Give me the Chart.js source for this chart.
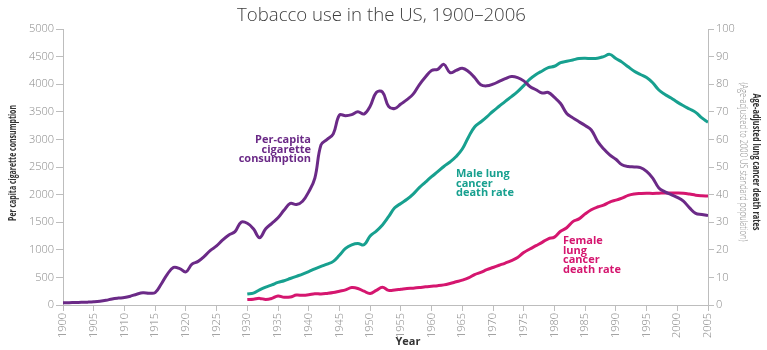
<!DOCTYPE html>
<html>
<head>
<meta charset="utf-8">
<script src="https://cdn.jsdelivr.net/npm/chart.js@4/dist/chart.umd.min.js"></script>
<style>
html,body{margin:0;padding:0;background:#fff;}
#wrap{width:767px;height:350px;position:relative;}
</style>
</head>
<body>
<div id="wrap"><canvas id="c" width="767" height="350"></canvas></div>
<script>
const title = "Tobacco use in the US, 1900–2006";
const xTitle = "Year";
const yLeftTitle = "Per capita cigarette consumption";
const yRightTitle = "Age-adjusted lung cancer death rates";
const yRightSub = "(Age-adjusted to 2000 US standard population)";
const labelCig = ["Per-capita", "cigarette", "consumption"];
const labelMale = ["Male lung", "cancer", "death rate"];
const labelFemale = ["Female", "lung", "cancer", "death rate"];

const cigYears = [1900,1901,1902,1903,1904,1905,1906,1907,1908,1909,1910,1911,1912,1913,1914,1915,1916,1917,1918,1919,1920,1921,1922,1923,1924,1925,1926,1927,1928,1929,1930,1931,1932,1933,1934,1935,1936,1937,1938,1939,1940,1941,1942,1943,1944,1945,1946,1947,1948,1949,1950,1951,1952,1953,1954,1955,1956,1957,1958,1959,1960,1961,1962,1963,1964,1965,1966,1967,1968,1969,1970,1971,1972,1973,1974,1975,1976,1977,1978,1979,1980,1981,1982,1983,1984,1985,1986,1987,1988,1989,1990,1991,1992,1993,1994,1995,1996,1997,1998,1999,2000,2001,2002,2003,2004,2005];
const cigValues = [40,42,45,48,52,58,68,85,110,125,135,160,195,220,215,225,380,560,680,660,600,740,790,880,990,1070,1180,1270,1330,1500,1480,1380,1220,1380,1480,1580,1720,1840,1820,1880,2050,2300,2900,3000,3100,3440,3430,3450,3500,3460,3600,3850,3860,3600,3560,3640,3720,3820,3990,4130,4250,4270,4360,4210,4250,4290,4230,4120,3990,3970,4000,4050,4100,4140,4120,4060,3960,3900,3840,3850,3760,3650,3470,3390,3320,3250,3170,2970,2830,2720,2640,2540,2510,2500,2490,2420,2300,2120,2050,2000,1950,1880,1760,1660,1640,1620];

const rateYears = [1930,1931,1932,1933,1934,1935,1936,1937,1938,1939,1940,1941,1942,1943,1944,1945,1946,1947,1948,1949,1950,1951,1952,1953,1954,1955,1956,1957,1958,1959,1960,1961,1962,1963,1964,1965,1966,1967,1968,1969,1970,1971,1972,1973,1974,1975,1976,1977,1978,1979,1980,1981,1982,1983,1984,1985,1986,1987,1988,1989,1990,1991,1992,1993,1994,1995,1996,1997,1998,1999,2000,2001,2002,2003,2004,2005];
const maleRates = [4.0,4.3,5.5,6.5,7.3,8.2,8.8,9.6,10.4,11.2,12.1,13.1,14.0,14.8,15.8,18.0,20.5,21.8,22.3,21.8,25.0,26.8,29.0,32.0,35.2,36.8,38.3,40.2,42.5,44.5,46.5,48.3,50.2,51.8,53.8,56.5,60.8,64.5,66.3,68.2,70.2,72.0,73.8,75.5,77.3,79.5,81.8,83.5,84.8,86.0,86.5,87.8,88.3,88.8,89.3,89.4,89.3,89.4,90.0,90.8,89.3,88.0,86.3,84.7,83.5,82.4,80.5,77.9,76.3,75.0,73.5,72.2,71.0,69.8,67.8,66.2];
const femaleRates = [2.0,2.1,2.4,2.0,2.4,3.3,2.8,2.9,3.6,3.5,3.7,4.1,4.0,4.2,4.5,5.0,5.5,6.3,6.0,5.0,4.2,5.3,6.4,5.3,5.4,5.7,6.0,6.1,6.3,6.6,6.8,7.0,7.3,7.8,8.4,9.0,9.8,11.0,11.8,12.8,13.6,14.4,15.2,16.1,17.2,19.0,20.3,21.5,22.7,24.0,24.6,26.7,28.0,30.2,31.2,33.0,34.5,35.5,36.2,37.3,38.0,38.7,39.7,40.2,40.4,40.5,40.4,40.5,40.6,40.6,40.6,40.5,40.2,39.8,39.6,39.5];

const PURPLE = '#6b2a87', TEAL = '#17a08f', PINK = '#d5166f';

function pts(xs, ys){ return xs.map((x,i)=>({x:x, y:ys[i]})); }

function drawScaled(ctx, text, cx, cy, targetW){
  const w = ctx.measureText(text).width;
  ctx.save();
  ctx.translate(cx, cy);
  ctx.scale(targetW / w, 1);
  ctx.textAlign = 'left';
  ctx.fillText(text, -w/2, 0);
  ctx.restore();
}

const decor = {
  id:'decor',
  afterDraw(chart){
    const ctx = chart.ctx;
    ctx.save();
    ctx.textBaseline = 'alphabetic';
    // title
    ctx.fillStyle = '#3d3d3d';
    ctx.font = '300 18px "Open Sans"';
    drawScaled(ctx, title, 381.5, 21, 289);
    // x title
    ctx.textAlign = 'center';
    ctx.fillStyle = '#333';
    ctx.font = 'bold 11px "Open Sans"';
    ctx.fillText(xTitle, 408, 345);
    // left title (reads bottom to top)
    ctx.save();
    ctx.translate(16, 163); ctx.rotate(-Math.PI/2);
    ctx.font = 'bold 11px "Open Sans"'; ctx.fillStyle = '#333';
    drawScaled(ctx, yLeftTitle, 0, 0, 116);
    ctx.restore();
    // right titles (read top to bottom)
    ctx.save();
    ctx.translate(753, 162); ctx.rotate(Math.PI/2);
    ctx.font = 'bold 11px "Open Sans"'; ctx.fillStyle = '#333';
    drawScaled(ctx, yRightTitle, 0, 0, 137);
    ctx.font = '300 11px "Open Sans"'; ctx.fillStyle = '#888';
    drawScaled(ctx, yRightSub, 0, 13, 159);
    ctx.restore();
    // series labels
    ctx.font = 'bold 11px "Open Sans"';
    ctx.textAlign = 'right'; ctx.fillStyle = PURPLE;
    labelCig.forEach((t,i)=>ctx.fillText(t, 311, 143 + i*9.6));
    ctx.textAlign = 'left'; ctx.fillStyle = TEAL;
    labelMale.forEach((t,i)=>ctx.fillText(t, 456, 177 + i*9.6));
    ctx.fillStyle = PINK;
    labelFemale.forEach((t,i)=>ctx.fillText(t, 563, 244 + i*9.6));
    ctx.restore();
  }
};

const tickFont = {family:'"Open Sans"', size:11, weight:'300'};
const axisColor = '#bdbdbd';

new Chart(document.getElementById('c'), {
  type:'line',
  data:{
    datasets:[
      {label:'Per-capita cigarette consumption', data:pts(cigYears,cigValues), yAxisID:'y', borderColor:PURPLE, borderWidth:3, pointRadius:0, tension:0.4, fill:false},
      {label:'Male lung cancer death rate', data:pts(rateYears,maleRates), yAxisID:'y1', borderColor:TEAL, borderWidth:3, pointRadius:0, tension:0.4, fill:false},
      {label:'Female lung cancer death rate', data:pts(rateYears,femaleRates), yAxisID:'y1', borderColor:PINK, borderWidth:3, pointRadius:0, tension:0.4, fill:false}
    ]
  },
  options:{
    responsive:false, animation:false,
    layout:{padding:{top:29, left:0, right:0, bottom:0}},
    plugins:{legend:{display:false}, tooltip:{enabled:false}, title:{display:false}},
    scales:{
      x:{type:'linear', min:1900, max:2005,
        afterFit(s){ s.height = 45; },
        ticks:{stepSize:5, autoSkip:false, minRotation:90, maxRotation:90, padding:2, color:'#888', font:tickFont, callback:v=>String(v)},
        grid:{drawOnChartArea:false, drawTicks:true, tickLength:6, color:axisColor},
        border:{display:true, color:axisColor}
      },
      y:{position:'left', min:0, max:5000,
        afterFit(s){ s.width = 63; },
        ticks:{stepSize:500, padding:2, color:'#888', font:tickFont, callback:v=>String(v)},
        grid:{drawOnChartArea:false, drawTicks:true, tickLength:7, color:axisColor},
        border:{display:true, color:axisColor}
      },
      y1:{position:'right', min:0, max:100,
        afterFit(s){ s.width = 59; },
        ticks:{stepSize:10, padding:2, color:'#888', font:tickFont, callback:v=>String(v)},
        grid:{drawOnChartArea:false, drawTicks:true, tickLength:6, color:axisColor},
        border:{display:true, color:axisColor}
      }
    }
  },
  plugins:[decor]
});
</script>
</body>
</html>
